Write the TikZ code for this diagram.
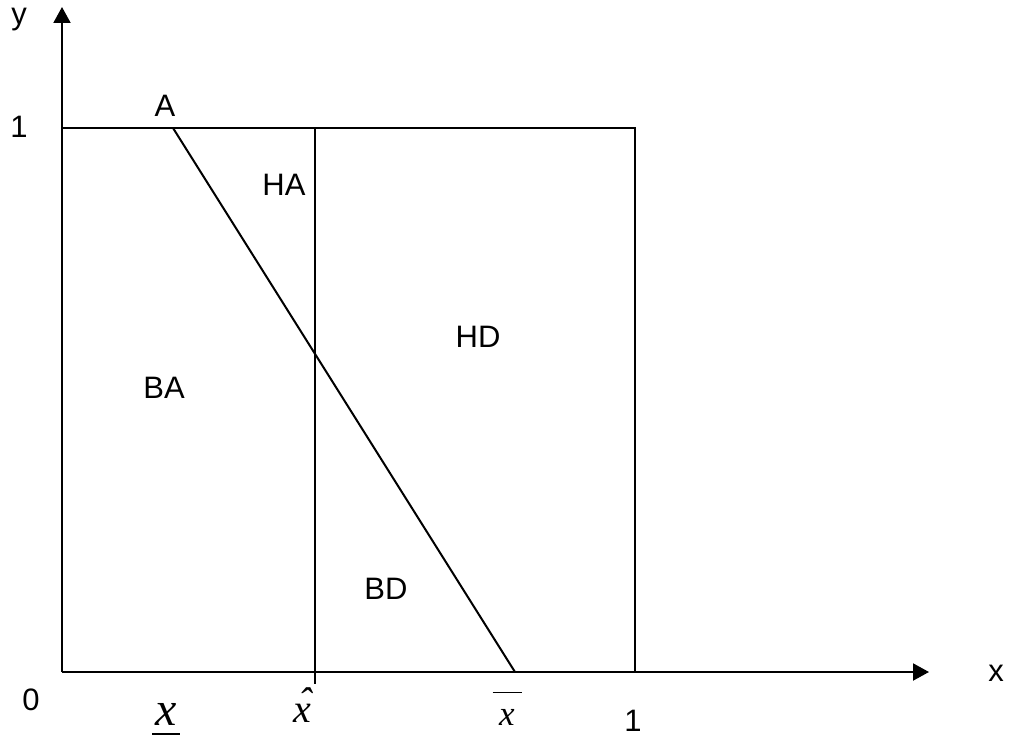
\documentclass[tikz,border=0pt]{standalone}
\usepackage{fontspec}
\setmainfont{Liberation Sans}
\newfontfamily\tms{Liberation Serif}
\usetikzlibrary{arrows.meta}
\begin{document}
\begin{tikzpicture}[x=1pt,y=-1pt,
  ln/.style={line width=2pt},
  axis/.style={line width=2pt,-{Triangle[length=16pt,width=17pt]}},
  lbl/.style={inner sep=0pt,font=\fontsize{31}{31}\selectfont},
  mlbl/.style={inner sep=0pt,anchor=base}]
\useasboundingbox (0,0) rectangle (1016,738);
% coordinates
\coordinate (O) at (62,672);
\coordinate (Ytip) at (62,7);
\coordinate (Xtip) at (929,672);
\coordinate (Y1) at (62,128);
\coordinate (TR) at (635,128);
\coordinate (BR) at (635,672);
\coordinate (Htop) at (315,128);
\coordinate (Hbot) at (315,684);
\coordinate (Atop) at (173,128);
\coordinate (Abot) at (515,672);
% axes
\draw[axis] (O) -- (Ytip);
\draw[axis] (O) -- (Xtip);
% box
\draw[ln] (Y1) -- (TR) -- (BR);
\draw[ln] (Htop) -- (Hbot);
\draw[ln] (Atop) -- (Abot);
% labels
\node[lbl,anchor=base] (ly) at (19,25) {y};
\node[lbl] (lx) at (996,673) {x};
\node[lbl] (l1y) at (19,127) {1};
\node[lbl] (l0) at (31,700) {0};
\node[lbl] (l1x) at (633,721) {1};
\node[lbl] (lA) at (165,106) {A};
\node[lbl] (lHA) at (284,185) {HA};
\node[lbl] (lHD) at (478,337) {HD};
\node[lbl] (lBA) at (164,388) {BA};
\node[lbl] (lBD) at (386,589) {BD};
\node[mlbl] (xlow) at (166,725) {\tms\itshape\fontsize{48}{48}\selectfont\makebox[28pt]{x}\llap{\raisebox{-10pt}{\rule{28pt}{1.6pt}}}};
\node[mlbl] (xhat) at (302,722) {\tms\itshape\fontsize{40}{40}\selectfont\makebox[0pt][l]{\kern5pt\raisebox{7pt}{\char"02C6}}x};
\node[mlbl] (xbar) at (507,725) {\tms\itshape\fontsize{35}{35}\selectfont\makebox[29pt]{x}\llap{\raisebox{32pt}{\rule{29pt}{1.4pt}}}};
\end{tikzpicture}
\end{document}
